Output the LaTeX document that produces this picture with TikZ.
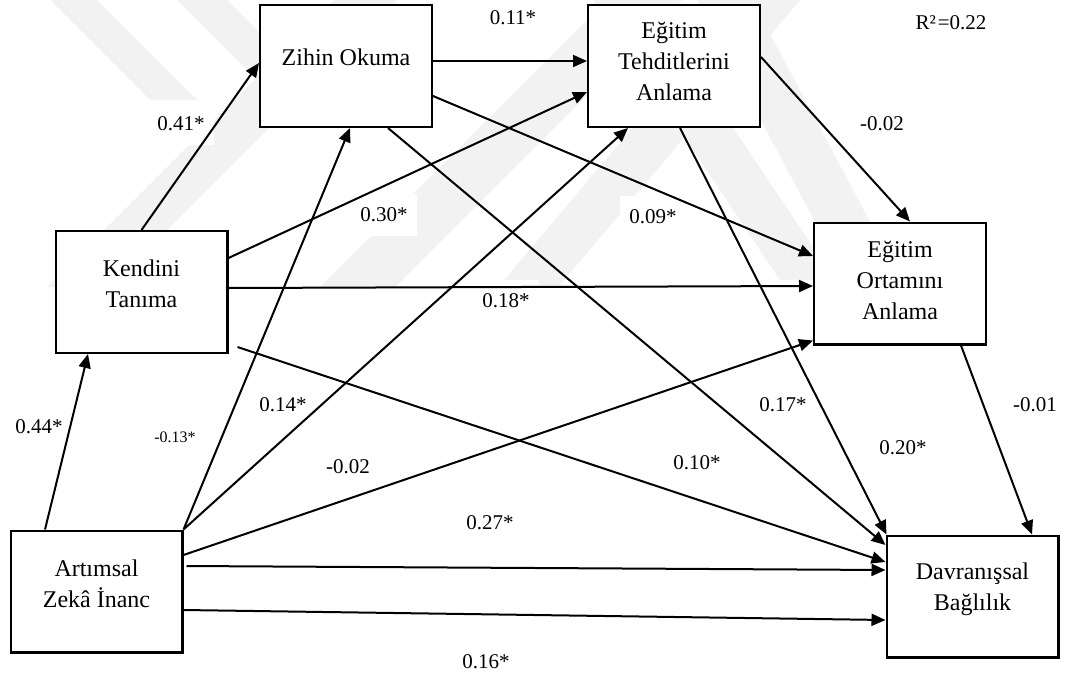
\documentclass[tikz,border=0pt]{standalone}
\usepackage{fontspec}
\setmainfont{Liberation Serif}
\usetikzlibrary{arrows.meta}

\begin{document}
\begin{tikzpicture}[x=1pt,y=-1pt,
  box/.style={draw, line width=2.3pt, fill=white, minimum width=171.7pt,
              minimum height=121.7pt, inner sep=0pt},
  boxtext/.style={align=center, font=\fontsize{24}{31}\selectfont, inner sep=0pt},
  coef/.style={font=\fontsize{21}{25}\selectfont, fill=white, inner xsep=9pt, inner ysep=14pt},
  link/.style={line width=2pt, -{Triangle[length=14pt,width=12pt]}},
  wm/.style={fill=black!5}
]
\useasboundingbox (0,0) rectangle (1078,677);

% faint striped emblem in the background
\fill[wm] (50,0) -- (97,0) -- (197,100) -- (150,100) -- cycle;
\fill[wm] (177,0) -- (227,0) -- (327,100) -- (277,100) -- cycle;
\fill[wm] (47,287) -- (110,287) -- (397,0) -- (334,0) -- cycle;
\fill[wm] (320,287) -- (395,287) -- (682,0) -- (607,0) -- cycle;
\fill[wm] (500,285) -- (560,285) -- (800,0) -- (740,0) -- cycle;
\fill[wm] (593,0) -- (648,0) -- (835,280) -- (780,280) -- cycle;
\fill[wm] (697,0) -- (752,0) -- (885,250) -- (830,250) -- cycle;

% path coefficients
\node[coef] (c1)  at (181,124) {0.41*};
\node[coef] (c2)  at (513,18)  {0.11*};
\node[coef] (c3)  at (384,215) {0.30*};
\node[coef] (c4)  at (506,301) {0.18*};
\node[coef] (c5)  at (882,124) {-0.02};
\node[coef] (c6)  at (653,217) {0.09*};
\node[coef] (c7)  at (39,427)  {0.44*};
\node[coef, font=\fontsize{16}{19}\selectfont] (c8) at (175,437) {-0.13*};
\node[coef] (c9)  at (283,405) {0.14*};
\node[coef] (c10) at (348,467) {-0.02};
\node[coef] (c11) at (490,523) {0.27*};
\node[coef] (c12) at (486,662) {0.16*};
\node[coef] (c13) at (783,405) {0.17*};
\node[coef] (c14) at (697,463) {0.10*};
\node[coef] (c15) at (903,448) {0.20*};
\node[coef] (c16) at (1035,405) {-0.01};
\node[font=\fontsize{21}{25}\selectfont, inner sep=0pt] (r2) at (951,23) {R²\kern2pt=0.22};

% variables
\node[box] (ZO) at (346,66) {};
\node[box] (ET) at (674,66) {};
\node[box] (EO) at (900,283.5) {};
\node[box] (KT) at (141.5,292) {};
\node[box] (AZ) at (96.5,591.5) {};
\node[box] (DB) at (972.5,596.5) {};

\node[boxtext] (ZOt) at (346,57.5) {Zihin Okuma};
\node[boxtext] (ETt) at (674,61.3) {Eğitim\\Tehditlerini\\Anlama};
\node[boxtext] (EOt) at (900,280) {Eğitim\\Ortamını\\Anlama};
\node[boxtext] (KTt) at (141.5,283.5) {Kendini\\Tanıma};
\node[boxtext] (AZt) at (96.5,583.5) {Artımsal\\Zekâ İnanc};
\node[boxtext] (DBt) at (972.5,589) {Davranışsal\\Bağlılık};

% paths
\draw[link] (KT.north) -- ([yshift=3pt]ZO.west);
\draw[link] ([xshift=-51.5pt]AZ.north) -- ([xshift=-53.5pt]KT.south);
\draw[link] ([yshift=5pt]ZO.east) -- ([yshift=5pt]ET.west);
\draw[link] ([yshift=34pt]KT.east) -- ([yshift=-26pt]ET.west);
\draw[link] (AZ.north east) -- ([xshift=4pt]ZO.south);
\draw[link] (AZ.north east) -- ([xshift=-46pt]ET.south);
\draw[link] ([yshift=36.5pt]AZ.east) -- ([yshift=5pt]EO.south west);
\draw[link] ([xshift=3pt,yshift=25.5pt]AZ.east) -- ([yshift=26.5pt]DB.west);
\draw[link] ([yshift=-18.5pt]AZ.east) -- ([yshift=-23.5pt]DB.west);
\draw[link] ([yshift=4pt]KT.east) -- ([yshift=-2.5pt]EO.west);
\draw[link] ([xshift=9pt,yshift=7pt]KT.south east) -- ([yshift=34.5pt]DB.west);
\draw[link] ([yshift=-30pt]ZO.east) -- ([yshift=27.5pt]EO.west);
\draw[link] ([xshift=42pt]ZO.south) -- ([yshift=51.5pt]DB.west);
\draw[link] ([xshift=6pt]ET.south) -- ([xshift=1pt]DB.north west);
\draw[link] ([yshift=9pt]ET.east) -- ([xshift=10pt]EO.north);
\draw[link] ([xshift=61pt]EO.south) -- ([xshift=59.5pt]DB.north);
\end{tikzpicture}
\end{document}
